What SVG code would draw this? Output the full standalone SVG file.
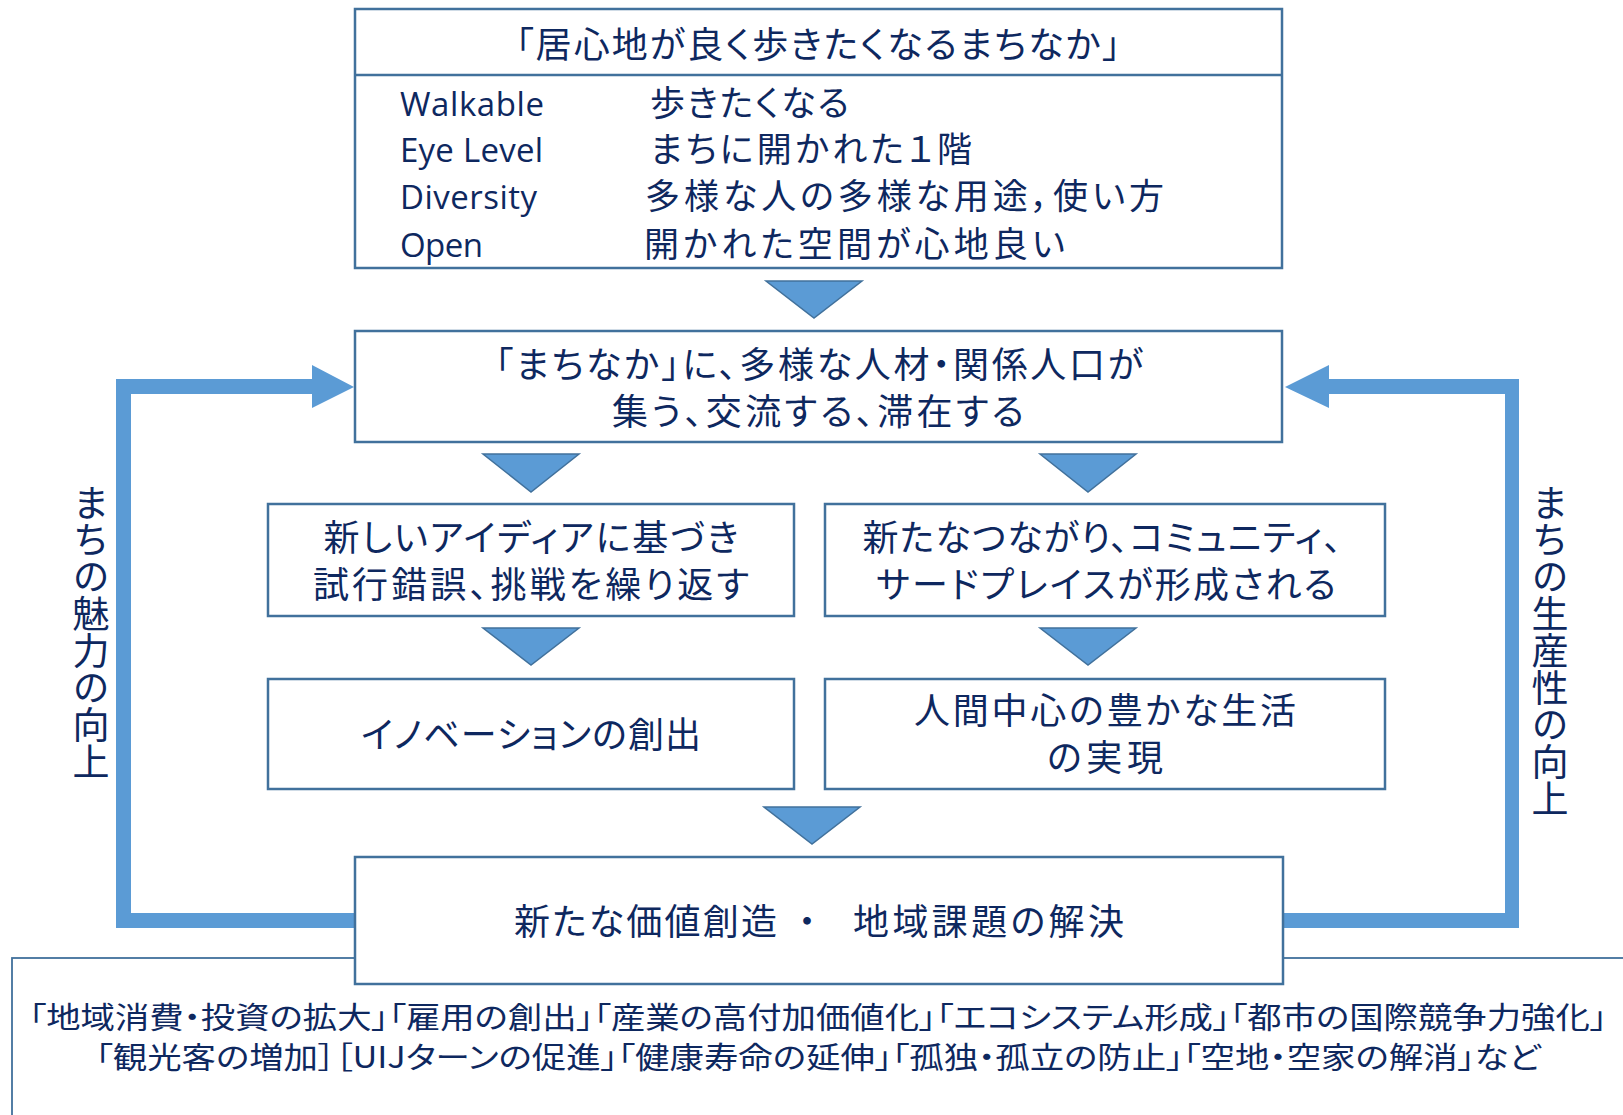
<svg xmlns="http://www.w3.org/2000/svg" width="1623" height="1115" viewBox="0 0 1623 1115">
<style>
.box{fill:#fff;stroke:#41719C;stroke-width:2.5}
.frame{fill:none;stroke:#41719C;stroke-width:1.8}
.tri{fill:#5B9BD5;stroke:#41719C;stroke-width:1.5}
.loop{fill:#5B9BD5}
text{font-family:"Noto Sans CJK JP","Noto Sans",sans-serif;fill:#0e285f;font-feature-settings:"palt"}
.t36{font-size:36px}
.t35{font-size:35px}
.lat{font-family:"Open Sans","Noto Sans",sans-serif;font-size:33px;font-feature-settings:normal}
.t30{font-size:30px}
.mid{text-anchor:middle}
.vert{font-size:37px;writing-mode:vertical-rl;font-feature-settings:normal}
</style>
<rect width="1623" height="1115" fill="#fff"/>
<rect class="frame" x="12" y="958" width="1620" height="200"/>
<g id="connectors">
<polygon class="tri" points="766,281 862,281 814,318"/>
<polygon class="tri" points="483,454 579,454 531,492"/>
<polygon class="tri" points="1040,454 1136,454 1088,492"/>
<polygon class="tri" points="483,628 579,628 531,665"/>
<polygon class="tri" points="1040,628 1136,628 1088,665"/>
<polygon class="tri" points="764,807 860,807 812,844"/>
<path class="loop" d="M116,928 L116,379 L312,379 L312,365 L354,387 L312,408 L312,394 L131,394 L131,913 L357,913 L357,928 Z"/>
<path class="loop" d="M1519,928 L1519,379 L1329,379 L1329,365 L1285,387 L1329,408 L1329,394 L1505,394 L1505,913 L1281,913 L1281,928 Z"/>
</g>
<g id="n-top">
<rect class="box" x="355" y="9" width="927" height="259"/>
<line x1="355" y1="75" x2="1282" y2="75" stroke="#41719C" stroke-width="2.5"/>
<text class="t36 mid" x="818" y="58" textLength="605">「居心地が良く歩きたくなるまちなか」</text>
<text class="lat" x="400" y="116" textLength="144">Walkable</text>
<text class="lat" x="400" y="162" textLength="143">Eye Level</text>
<text class="lat" x="400" y="209" textLength="137">Diversity</text>
<text class="lat" x="400" y="257" textLength="83">Open</text>
<text class="t35" x="650" y="116" textLength="199">歩きたくなる</text>
<text class="t35" x="650" y="162" textLength="322">まちに開かれた１階</text>
<text class="t35" x="645" y="209" textLength="519">多様な人の多様な用途，使い方</text>
<text class="t35" x="644" y="257" textLength="421">開かれた空間が心地良い</text>
</g>
<g id="n-gather">
<rect class="box" x="355" y="331" width="927" height="111"/>
<text class="t36 mid" x="819" y="378" textLength="648">「まちなか」に、多様な人材・関係人口が</text>
<text class="t36 mid" x="818" y="425" textLength="412">集う、交流する、滞在する</text>
</g>
<g id="n-idea">
<rect class="box" x="268" y="504" width="526" height="112"/>
<text class="t36 mid" x="531" y="551" textLength="415">新しいアイディアに基づき</text>
<text class="t36 mid" x="531" y="598" textLength="436">試行錯誤、挑戦を繰り返す</text>
</g>
<g id="n-connect">
<rect class="box" x="825" y="504" width="560" height="112"/>
<text class="t36 mid" x="1102" y="551" textLength="479">新たなつながり、コミュニティ、</text>
<text class="t36 mid" x="1106" y="598" textLength="460">サードプレイスが形成される</text>
</g>
<g id="n-innovation">
<rect class="box" x="268" y="679" width="526" height="110"/>
<text class="t36 mid" x="531" y="748" textLength="340">イノベーションの創出</text>
</g>
<g id="n-life">
<rect class="box" x="825" y="679" width="560" height="110"/>
<text class="t36 mid" x="1105" y="724" textLength="382">人間中心の豊かな生活</text>
<text class="t36 mid" x="1105" y="771" textLength="116">の実現</text>
</g>
<g id="n-value">
<rect class="box" x="355" y="857" width="928" height="127"/>
<text class="t36"><tspan x="514" y="935" textLength="263">新たな価値創造</tspan><tspan x="798" y="935">・</tspan><tspan x="853" y="935" textLength="271">地域課題の解決</tspan></text>
</g>
<g id="n-effects">
<text class="t30 mid" x="818" y="1028" textLength="1578" lengthAdjust="spacingAndGlyphs">「地域消費・投資の拡大」「雇用の創出」「産業の高付加価値化」「エコシステム形成」「都市の国際競争力強化」</text>
<text class="t30 mid" x="818" y="1068" textLength="1445" lengthAdjust="spacingAndGlyphs">「観光客の増加］［UIJターンの促進」「健康寿命の延伸」「孤独・孤立の防止」「空地・空家の解消」など</text>
</g>
<g id="n-left-label">
<text class="vert" x="91" y="484">まちの魅力の向上</text>
</g>
<g id="n-right-label">
<text class="vert" x="1550" y="484">まちの生産性の向上</text>
</g>
</svg>
